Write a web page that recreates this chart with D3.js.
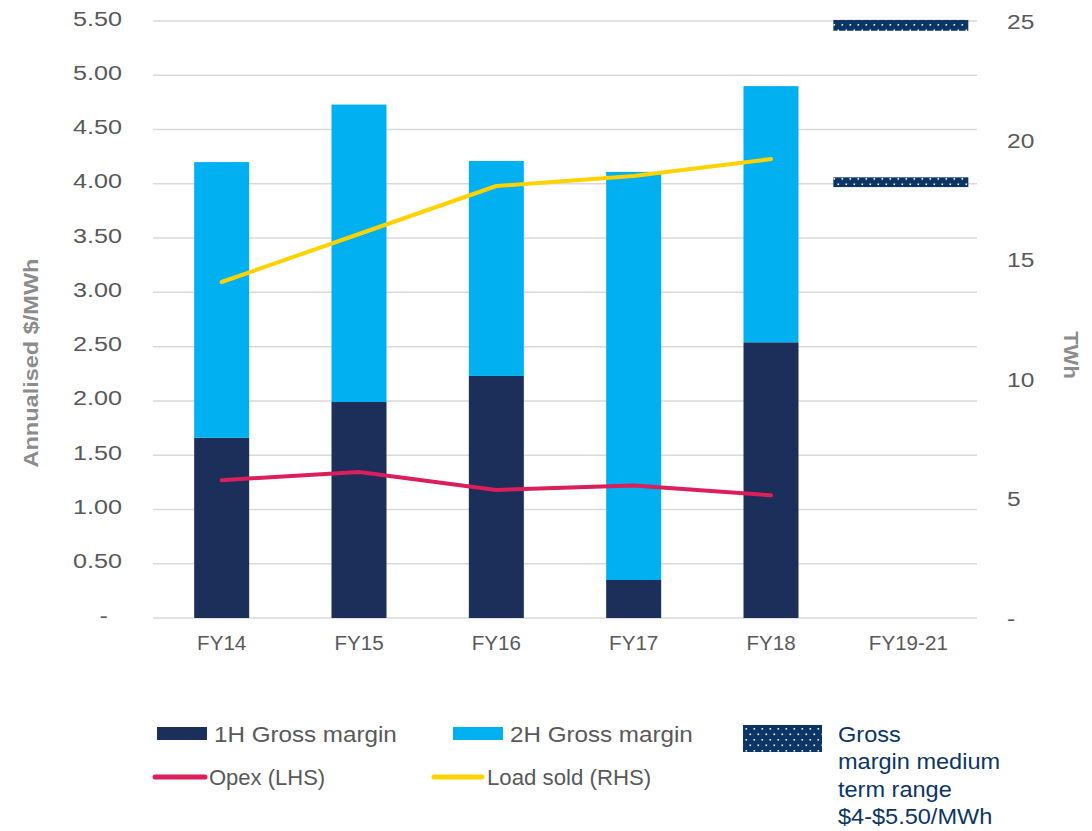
<!DOCTYPE html>
<html>
<head>
<meta charset="utf-8">
<script src="https://cdn.jsdelivr.net/npm/d3@7"></script>
<style>
  body { margin: 0; background: #fff; }
  text { font-family: "Liberation Sans", Arial, sans-serif; }
</style>
</head>
<body>
<svg id="chart" width="1092" height="831"></svg>
<script>
// ---- data ----
const categories = ["FY14", "FY15", "FY16", "FY17", "FY18", "FY19-21"];
const grossMargin1H = [1.66, 1.99, 2.23, 0.35, 2.54];
const grossMargin2H = [2.54, 2.74, 1.98, 3.76, 2.36];
const opexLHS = [1.27, 1.345, 1.18, 1.22, 1.13];
const loadSoldRHS = [14.07, 16.08, 18.09, 18.51, 19.22];
const rangeCategory = "FY19-21";
const rangeLow = [3.97, 5.41];   // marker bands for the $4.00 and $5.50 bounds
const rangeHigh = [4.06, 5.51];
const leftTicks = [0, 0.5, 1, 1.5, 2, 2.5, 3, 3.5, 4, 4.5, 5, 5.5];
const rightTicks = [0, 5, 10, 15, 20, 25];

const colors = {
  h1: "#1c2e5a",
  h2: "#00b0f0",
  opex: "#dc1e5a",
  load: "#ffd200",
  range: "#0c3567",
  grid: "#d9d9d9",
  tick: "#595959",
  title: "#8c8c8c"
};

const svg = d3.select("#chart");

// dotted fill for the medium-term range markers
const defs = svg.append("defs");
const pat = defs.append("pattern")
  .attr("id", "dots").attr("patternUnits", "userSpaceOnUse")
  .attr("width", 8).attr("height", 11);
pat.append("rect").attr("width", 8).attr("height", 11).attr("fill", colors.range);
pat.append("rect").attr("x", 1.5).attr("y", 2).attr("width", 1.6).attr("height", 1.6).attr("fill", "#fff");
pat.append("rect").attr("x", 5.5).attr("y", 7.5).attr("width", 1.6).attr("height", 1.6).attr("fill", "#fff");

// ---- scales ----
const x = d3.scaleBand().domain(categories).range([153, 977]).padding(0);
const yL = d3.scaleLinear().domain([0, 5.5]).range([618, 21]);
const yR = d3.scaleLinear().domain([0, 25]).range([618, 21]);
const barW = 55;
const cx = c => x(c) + x.bandwidth() / 2;

// stretched text helper (horizontal scale in the text's own direction)
function label(g, txt, px, py, opts) {
  const o = Object.assign({ size: 21, anchor: "start", fill: colors.tick, sx: 1, rotate: 0, weight: "normal" }, opts);
  return g.append("text")
    .attr("transform", `translate(${px},${py}) rotate(${o.rotate}) scale(${o.sx},1)`)
    .attr("text-anchor", o.anchor)
    .attr("font-size", o.size)
    .attr("font-weight", o.weight)
    .attr("fill", o.fill)
    .text(txt);
}

// ---- gridlines ----
const grid = svg.append("g");
grid.selectAll("line").data(leftTicks).join("line")
  .attr("x1", 153).attr("x2", 977)
  .attr("y1", d => yL(d)).attr("y2", d => yL(d))
  .attr("stroke", colors.grid).attr("stroke-width", 1.5);

// ---- axes (labels only, no domain lines) ----
const leftAxis = svg.append("g").attr("transform", "translate(122,0)")
  .call(d3.axisLeft(yL).tickValues(leftTicks).tickSize(0).tickFormat(d => d === 0 ? "-" : d3.format(".2f")(d)));
leftAxis.select(".domain").remove();
leftAxis.selectAll(".tick text").remove();
leftAxis.selectAll(".tick").each(function (d) {
  const g = d3.select(this);
  label(g, d === 0 ? "-" : d3.format(".2f")(d), d === 0 ? -14 : 0, 4, { anchor: "end", sx: 1.2 });
});

const rightAxis = svg.append("g").attr("transform", "translate(1007,0)")
  .call(d3.axisRight(yR).tickValues(rightTicks).tickSize(0));
rightAxis.select(".domain").remove();
rightAxis.selectAll(".tick text").remove();
rightAxis.selectAll(".tick").each(function (d) {
  label(d3.select(this), d === 0 ? "-" : String(d), 0, 7, { anchor: "start", sx: 1.17 });
});

const bottomAxis = svg.append("g").attr("transform", "translate(0,618)")
  .call(d3.axisBottom(x).tickSize(0));
bottomAxis.select(".domain").remove();
bottomAxis.selectAll(".tick text").remove();
bottomAxis.selectAll(".tick").each(function (d) {
  label(d3.select(this), d, 0, 32, { anchor: "middle", size: 20, sx: 1.03 });
});

// axis titles
label(svg, "Annualised $/MWh", 38, 363, { anchor: "middle", rotate: -90, weight: "bold", fill: colors.title, sx: 1.12 });
label(svg, "TWh", 1064, 355, { anchor: "middle", rotate: 90, weight: "bold", fill: colors.title, sx: 1.05 });

// ---- stacked bars ----
const bars = svg.append("g");
const barData = grossMargin1H.map((v, i) => ({ cat: categories[i], h1: v, h2: grossMargin2H[i] }));
bars.selectAll(".h1").data(barData).join("rect")
  .attr("x", d => cx(d.cat) - barW / 2).attr("width", barW)
  .attr("y", d => yL(d.h1)).attr("height", d => yL(0) - yL(d.h1))
  .attr("fill", colors.h1);
bars.selectAll(".h2").data(barData).join("rect")
  .attr("x", d => cx(d.cat) - barW / 2).attr("width", barW)
  .attr("y", d => yL(d.h1 + d.h2)).attr("height", d => yL(d.h1) - yL(d.h1 + d.h2))
  .attr("fill", colors.h2);

// medium-term range markers
svg.append("g").selectAll("rect").data(rangeLow.map((lo, i) => [lo, rangeHigh[i]])).join("rect")
  .attr("x", cx(rangeCategory) - 75).attr("width", 135)
  .attr("y", d => yL(d[1])).attr("height", d => yL(d[0]) - yL(d[1]))
  .attr("fill", "url(#dots)");

// ---- lines ----
const lineCats = categories.slice(0, opexLHS.length);
svg.append("path")
  .datum(opexLHS)
  .attr("fill", "none").attr("stroke", colors.opex).attr("stroke-width", 4)
  .attr("stroke-linejoin", "round").attr("stroke-linecap", "round")
  .attr("d", d3.line().x((d, i) => cx(lineCats[i])).y(d => yL(d)));
svg.append("path")
  .datum(loadSoldRHS)
  .attr("fill", "none").attr("stroke", colors.load).attr("stroke-width", 4)
  .attr("stroke-linejoin", "round").attr("stroke-linecap", "round")
  .attr("d", d3.line().x((d, i) => cx(lineCats[i])).y(d => yR(d)));

// ---- legend ----
const lg = svg.append("g");
lg.append("rect").attr("x", 157).attr("y", 727).attr("width", 50).attr("height", 13).attr("fill", colors.h1);
label(lg, "1H Gross margin", 214, 742, { size: 22, sx: 1.1 });
lg.append("rect").attr("x", 453).attr("y", 727).attr("width", 50).attr("height", 13).attr("fill", colors.h2);
label(lg, "2H Gross margin", 510, 742, { size: 22, sx: 1.1 });
lg.append("line").attr("x1", 155).attr("x2", 205).attr("y1", 777).attr("y2", 777)
  .attr("stroke", colors.opex).attr("stroke-width", 5).attr("stroke-linecap", "round");
label(lg, "Opex (LHS)", 209, 785, { size: 22 });
lg.append("line").attr("x1", 434).attr("x2", 482).attr("y1", 777).attr("y2", 777)
  .attr("stroke", colors.load).attr("stroke-width", 5).attr("stroke-linecap", "round");
label(lg, "Load sold (RHS)", 487, 785, { size: 22, sx: 1.01 });
lg.append("rect").attr("x", 743).attr("y", 725).attr("width", 79).attr("height", 27).attr("fill", "url(#dots)");
["Gross", "margin medium", "term range", "$4-$5.50/MWh"].forEach((t, i) => {
  label(lg, t, 838, 742 + i * 27.3, { size: 22, fill: colors.range, sx: 1.07 });
});
</script>
</body>
</html>
